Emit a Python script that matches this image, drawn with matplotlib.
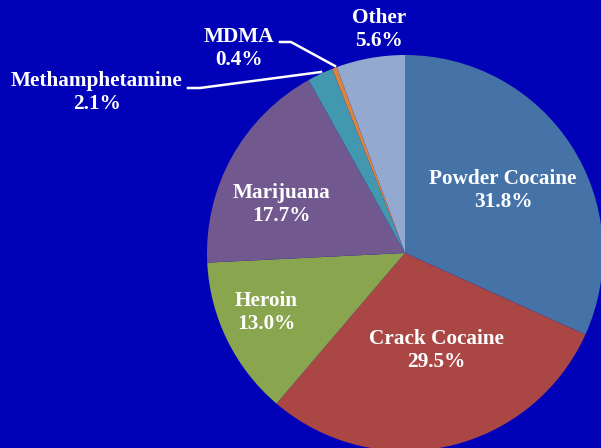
import matplotlib
matplotlib.use('Agg')
import matplotlib.pyplot as plt

labels = ['Powder Cocaine', 'Crack Cocaine', 'Heroin', 'Marijuana',
          'Methamphetamine', 'MDMA', 'Other']
shares = [31.8, 29.5, 13.0, 17.7, 2.1, 0.4, 5.6]
colors = ['#4572A7', '#AA4643', '#89A54E', '#71588F', '#4198AF', '#DB843D', '#93A9CF']

# label centres, in pie radius units
lab_xy = [(0.495, 0.318), (0.157, -0.49), (-0.702, -0.303), (-0.626, 0.247),
          (-1.556, 0.813), (-0.838, 1.035), (-0.131, 1.131)]

bg = '#0101B8'
fig = plt.figure(figsize=(6.01, 4.48), dpi=100, facecolor=bg)
ax = fig.add_axes([0, 0, 1, 1])
ax.set_facecolor(bg)

ax.pie(shares, colors=colors, startangle=90, counterclock=False,
       radius=1.0, center=(0, 0), wedgeprops=dict(linewidth=0))

for (x, y), lab, v in zip(lab_xy, labels, shares):
    ax.text(x, y, '%s\n%.1f%%' % (lab, v), ha='center', va='center',
            color='white', fontsize=15.3, fontweight='bold',
            family='Liberation Serif', linespacing=1.2)

# leader lines (pixel positions converted to pie units)
def px(x, y):
    return (x - 405) / 198.0, (253 - y) / 198.0

for pts in [[(188, 88), (200, 88), (321, 72)],
            [(280, 42), (291, 42), (335, 66)]]:
    xs, ys = zip(*[px(*p) for p in pts])
    ax.plot(xs, ys, color='white', lw=1.8)

ax.set_xlim(-405 / 198.0, 196 / 198.0)
ax.set_ylim(-195 / 198.0, 253 / 198.0)
ax.set_aspect('auto')
ax.axis('off')

fig.savefig('out.png', dpi=100, facecolor=bg)
